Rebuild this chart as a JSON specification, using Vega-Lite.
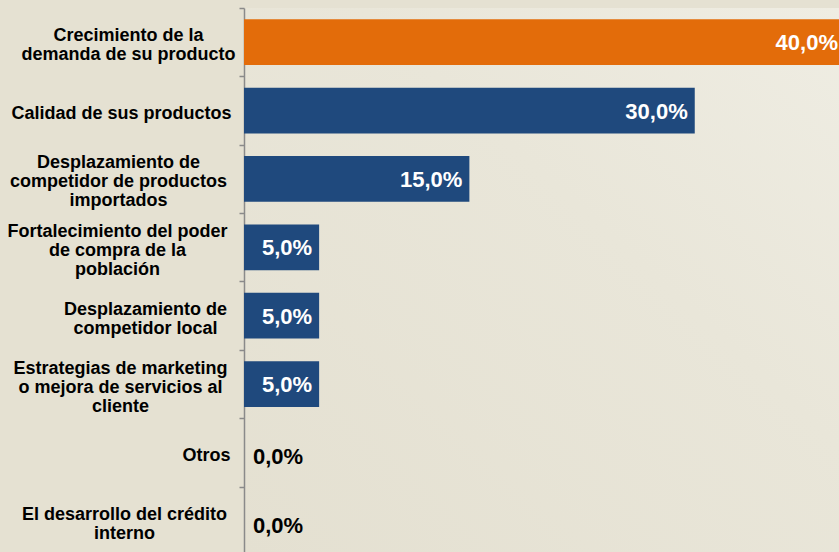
{
  "$schema": "https://vega.github.io/schema/vega-lite/v6.json",
  "width": 595,
  "height": 547,
  "autosize": "none",
  "padding": {"left": 244, "top": 8, "right": 0, "bottom": -3},
  "background": "#e5e1d2",
  "config": {
    "view": {"stroke": null, "fill": {"gradient": "linear", "x1": 0, "y1": 1, "x2": 1, "y2": 0, "stops": [{"offset": 0, "color": "#e4e0d1"}, {"offset": 0.6, "color": "#e9e6d9"}, {"offset": 1, "color": "#efede3"}]}},
    "locale": {"number": {"decimal": ",", "thousands": ".", "grouping": [3], "currency": ["", " €"]}}
  },
  "data": {
    "values": [
      {"factor": "Crecimiento de la|demanda de su producto", "pct": 0.40},
      {"factor": "Calidad de sus productos", "pct": 0.30},
      {"factor": "Desplazamiento de|competidor de productos|importados", "pct": 0.15},
      {"factor": "Fortalecimiento del poder|de compra de la|población", "pct": 0.05},
      {"factor": "Desplazamiento de|competidor local", "pct": 0.05},
      {"factor": "Estrategias de marketing|o mejora de servicios al|cliente", "pct": 0.05},
      {"factor": "Otros", "pct": 0.0},
      {"factor": "El desarrollo del crédito|interno", "pct": 0.0}
    ]
  },
  "encoding": {
    "y": {
      "field": "factor",
      "type": "nominal",
      "sort": null,
      "scale": {"paddingInner": 0.33, "paddingOuter": 0.165},
      "axis": {
        "title": null,
        "labelExpr": "split(datum.label, '|')",
        "labelAlign": "center",
        "labelBaseline": "middle",
        "labelFont": "Liberation Sans",
        "labelFontWeight": "bold",
        "labelFontSize": 18,
        "labelColor": "black",
        "labelLineHeight": 19,
        "labelLimit": 0,
        "tickOffset": -34.2,
        "tickSize": 5,
        "tickColor": "#8a8a8a",
        "tickWidth": 1.5,
        "domainColor": "#8a8a8a",
        "domainWidth": 1.5,
        "labelOffset": {"expr": "37.2 - 9.5 * (length(split(datum.value, '|')) - 1)"},
        "labelPadding": {"expr": "datum.value == 'Otros' ? 33 : datum.value == 'Crecimiento de la|demanda de su producto' ? 111 : datum.value == 'Calidad de sus productos' ? 118 : datum.value == 'Desplazamiento de|competidor de productos|importados' ? 121 : datum.value == 'Fortalecimiento del poder|de compra de la|población' ? 122 : datum.value == 'Desplazamiento de|competidor local' ? 94 : datum.value == 'Estrategias de marketing|o mejora de servicios al|cliente' ? 119 : 115"}
      }
    },
    "x": {
      "field": "pct",
      "type": "quantitative",
      "scale": {"domain": [0, 0.396], "nice": false, "zero": true},
      "axis": null
    }
  },
  "layer": [
    {
      "mark": {"type": "bar", "clip": true},
      "encoding": {
        "color": {"condition": {"test": "datum.pct >= 0.4", "value": "#E36C0A"}, "value": "#1F497D"}
      }
    },
    {
      "transform": [{"filter": "datum.pct > 0"}],
      "mark": {"type": "text", "align": "right", "baseline": "middle", "dx": -7, "dy": 1, "font": "Liberation Sans", "fontWeight": "bold", "fontSize": 22, "color": "white"},
      "encoding": {"text": {"field": "pct", "type": "quantitative", "format": ".1%"}}
    },
    {
      "transform": [{"filter": "datum.pct == 0"}],
      "mark": {"type": "text", "align": "left", "baseline": "middle", "dx": 9, "dy": 5, "font": "Liberation Sans", "fontWeight": "bold", "fontSize": 22, "color": "black"},
      "encoding": {"text": {"field": "pct", "type": "quantitative", "format": ".1%"}}
    }
  ]
}
